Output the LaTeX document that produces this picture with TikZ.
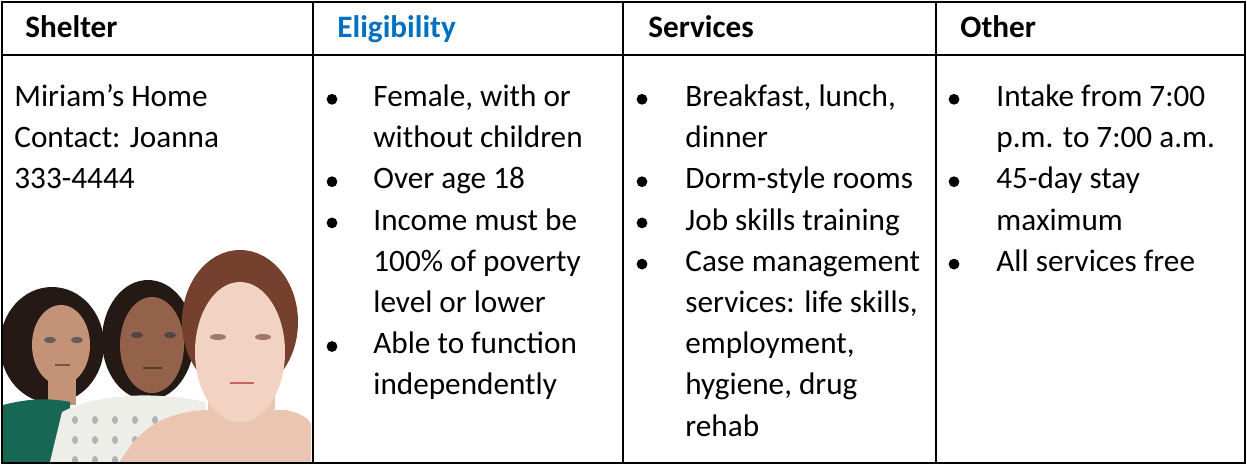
\documentclass[tikz,border=0pt]{standalone}
\usepackage{fontspec}
\setmainfont{Carlito}
\usetikzlibrary{positioning}
\definecolor{eligblue}{RGB}{0,112,192}
\definecolor{hairdark}{RGB}{36,25,20}
\definecolor{hairred}{RGB}{118,64,46}
\definecolor{skinA}{RGB}{196,146,118}
\definecolor{skinB}{RGB}{148,98,74}
\definecolor{skinC}{RGB}{242,210,194}
\definecolor{skinD}{RGB}{234,198,178}
\definecolor{shirtgreen}{RGB}{22,104,84}
\definecolor{shirtwhite}{RGB}{238,238,232}

\begin{document}
\begin{tikzpicture}[x=0.5pt,y=-0.5pt,
	cell/.style={anchor=base west,inner sep=0pt,font=\fontsize{15.6}{20.6}\selectfont},
	head/.style={cell,font=\fontsize{15.6}{20.6}\selectfont\bfseries},
	rule/.style={line width=1.2pt}]
	\useasboundingbox (0,0) rectangle (1247,465);
	% photo of the three women
	\begin{scope}
		\clip (3,250) rectangle (311,461);
		\fill[hairdark] (52,345) ellipse (52 and 58);
		\fill[skinA] (48,378) rectangle (76,405);
		\fill[skinA] (61,345) ellipse (29 and 40);
		\fill[shirtgreen] (3,405) .. controls (30,398) and (50,398) .. (70,402) -- (70,462) -- (3,462) -- cycle;
		\fill[hairdark] (148,340) ellipse (46 and 60);
		\fill[skinB] (152,345) ellipse (32 and 48);
		\fill[shirtwhite] (50,462) -- (62,412) .. controls (100,392) and (160,392) .. (205,402) -- (215,462) -- cycle;
		\foreach \px in {75,95,...,195}
			\foreach \py in {420,440,460}
				\fill[gray!60] (\px,\py) ellipse (3 and 4);
		\fill[hairred] (240,322) ellipse (58 and 72);
		\fill[skinD] (120,462) .. controls (140,425) and (170,412) .. (205,410) -- (285,410) .. controls (300,412) and (311,420) .. (311,425) -- (311,462) -- cycle;
		\fill[skinD] (208,385) rectangle (275,430);
		\fill[skinC] (240,352) ellipse (45 and 70);
		% eyes and mouths
		\fill[hairdark!70] (50,340) ellipse (6 and 3) (77,340) ellipse (6 and 3);
		\fill[hairdark!80] (137,335) ellipse (6 and 3) (170,335) ellipse (6 and 3);
		\fill[hairred!70] (218,337) ellipse (8 and 3) (263,337) ellipse (8 and 3);
		\draw[skinA!60!black,line width=0.8pt] (55,365) -- (70,365);
		\draw[skinB!60!black,line width=0.8pt] (143,368) -- (162,368);
		\draw[red!40!skinC!80!black,line width=1pt] (230,383) -- (254,383);
	\end{scope}
	% table rules
	\draw[rule] (2,2) rectangle (1245,463);
	\draw[rule] (2,55) -- (1245,55);
	\foreach \x in {313,623,936}
		\draw[rule] (\x,2) -- (\x,463);
	% headers
	\node[head] (shelter) at (25,38) {Shelter};
	\node[head,text=eligblue] (elig) at (337,38) {Eligibility};
	\node[head] (serv) at (648,38) {Services};
	\node[head] (other) at (960,38) {Other};
	% cells
	\foreach \t [count=\i from 0] in {Miriam’s Home, Contact: Joanna, 333-4444}
		\node[cell] (shelter\i) at (14,{106.5+41.2*\i}) {\t};
	\foreach \t [count=\i from 0] in {{Female, with or}, without children, Over age 18, Income must be, 100\% of poverty, level or lower, Able to function, independently}
		\node[cell] (elig\i) at (373,{106.5+41.2*\i}) {\t};
	\foreach \t [count=\i from 0] in {{Breakfast, lunch,}, dinner, Dorm-style rooms, Job skills training, Case management, {services: life skills,}, {employment,}, {hygiene, drug}, rehab}
		\node[cell] (serv\i) at (685,{106.5+41.2*\i}) {\t};
	\foreach \t [count=\i from 0] in {Intake from 7:00, p.m. to 7:00 a.m., 45-day stay, maximum, All services free}
		\node[cell] (other\i) at (996,{106.5+41.2*\i}) {\t};
	% bullets
	\foreach \r in {0,2,3,6}
		\fill (332,{99.3+41.2*\r}) circle (2.7pt);
	\foreach \r in {0,2,3,4}
		\fill (642,{99.3+41.2*\r}) circle (2.7pt);
	\foreach \r in {0,2,4}
		\fill (954,{99.3+41.2*\r}) circle (2.7pt);
\end{tikzpicture}
\end{document}
